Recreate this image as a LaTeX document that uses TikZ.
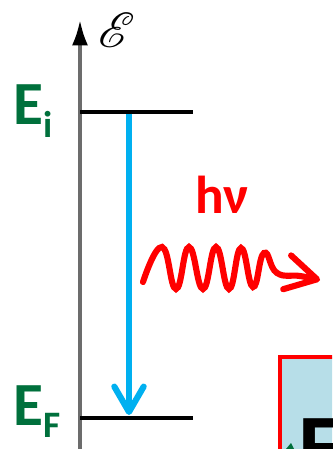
\documentclass[tikz,border=0pt]{standalone}
\usepackage{fontspec}
\setmainfont{Carlito}
\usepackage{mathrsfs}
\usetikzlibrary{arrows.meta,positioning}
\definecolor{levelgreen}{RGB}{0,112,60}
\definecolor{transblue}{RGB}{0,176,240}
\definecolor{photonred}{RGB}{255,0,0}
\definecolor{boxfill}{RGB}{183,222,232}
\newcommand{\lvlsub}[1]{\raisebox{-9.5pt}{\fontsize{28}{28}\selectfont #1}}

\begin{document}
\begin{tikzpicture}[
  x=0.75pt, y=-0.75pt,
  axisline/.style={
    draw=gray!85!black,
    line width=2.6pt,
    -{Latex[length=19pt,width=12pt,black]}
  },
  levelline/.style={
    draw=black,
    line width=3pt
  },
  levellabel/.style={
    text=levelgreen,
    font=\fontsize{46}{46}\selectfont\bfseries,
    inner sep=0pt,
    anchor=base west
  },
  transarrow/.style={
    draw=transblue,
    line width=4.6pt,
    -{Straight Barb[length=19pt,width=22pt,round]}
  },
  photon/.style={
    draw=photonred,
    line width=4.6pt,
    line cap=round,
    -{Straight Barb[length=23pt,width=26pt,round]}
  },
  samplebox/.style={
    draw=photonred,
    fill=boxfill,
    line width=3pt
  }
  ]
  
  \useasboundingbox (0,0) rectangle (332,449);
  \clip (0,0) rectangle (332,449);
  
  % energy axis
  \coordinate (axisbot) at (80,460);
  \coordinate (axistop) at (80,20);
  \draw[axisline] (axisbot) -- (axistop);
  \node[inner sep=0pt] (energy) at (117,30) {\scalebox{3.7}{$\mathscr{E}$}};
  
  % levels
  \coordinate (Ei) at (80,112);
  \coordinate (Eiend) at (193,112);
  \coordinate (EF) at (80,418);
  \coordinate (EFend) at (193,418);
  \draw[levelline] (Ei) -- (Eiend);
  \draw[levelline] (EF) -- (EFend);
  
  \node[levellabel] (Eilab) at (13,125) {E\lvlsub{i}};
  \node[levellabel] (EFlab) at (13,425) {E\lvlsub{F}};
  
  % transition
  \coordinate (upper) at (129,114);
  \coordinate (lower) at (129,415);
  \draw[transarrow] (upper) -- (lower);
  
  % emitted photon
  \node[text=photonred, font=\fontsize{40}{40}\selectfont\bfseries,
        inner sep=0pt, anchor=base west] (hnu) at (195,213) {hν};
  \draw[photon] plot[smooth, tension=0.8] coordinates {
    (143,282) (162,247) (176,289) (189,247) (203,289) (216,247)
    (229,289) (241,248) (253,287) (264,253) (277,273) (300,276) (320,280)};
  
  % sample
  \draw[samplebox] (280,357) rectangle (420,520);
  \node[font=\fontsize{68}{68}\selectfont\bfseries, inner sep=0pt,
        anchor=north west] (sampleE) at (298,418) {E};
  \fill[levelgreen] (286,449) -- (291,443) -- (294,449) -- cycle;
  
\end{tikzpicture}
\end{document}
